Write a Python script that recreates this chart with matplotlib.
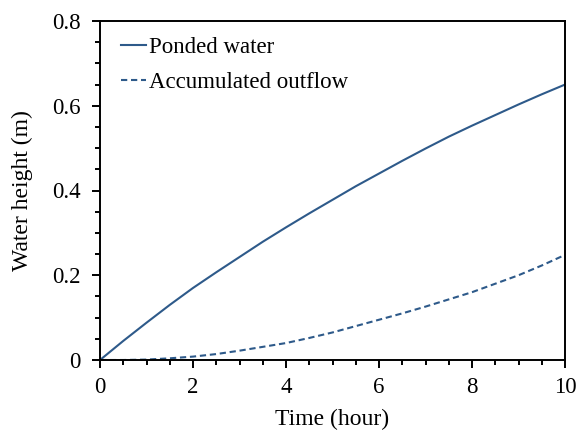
import matplotlib
matplotlib.use("Agg")
import matplotlib.pyplot as plt
from matplotlib.ticker import MultipleLocator, FuncFormatter

plt.rcParams['font.family'] = ['Liberation Serif', 'DejaVu Serif']

time_h = [0, 0.5, 1, 1.5, 2, 2.5, 3, 3.5, 4, 4.5, 5, 5.5, 6, 6.5, 7, 7.5, 8, 8.5, 9, 9.5, 10]
ponded = [0, 0.045, 0.088, 0.130, 0.170, 0.207, 0.243, 0.279, 0.313, 0.346, 0.378,
          0.410, 0.440, 0.470, 0.499, 0.527, 0.553, 0.578, 0.603, 0.627, 0.650]
outflow = [0, 0.0, 0.001, 0.004, 0.008, 0.014, 0.022, 0.031, 0.040, 0.052, 0.065,
           0.080, 0.095, 0.110, 0.126, 0.143, 0.160, 0.180, 0.200, 0.223, 0.248]

color = '#2e5a8a'

fig = plt.figure(figsize=(5.79, 4.33), dpi=100)
ax = fig.add_axes([100/579, 1-360/433, (565-100)/579, (360-21)/433])

ax.plot(time_h, ponded, color=color, lw=1.5, label='Ponded water')
ax.plot(time_h, outflow, color=color, lw=1.5, ls=(0, (3, 1.8)), label='Accumulated outflow')

ax.set_xlim(0, 10)
ax.set_ylim(0, 0.8)
ax.xaxis.set_major_locator(MultipleLocator(2))
ax.xaxis.set_minor_locator(MultipleLocator(0.5))
ax.yaxis.set_major_locator(MultipleLocator(0.2))
ax.yaxis.set_minor_locator(MultipleLocator(0.05))
ax.yaxis.set_major_formatter(FuncFormatter(lambda v, p: '0' if abs(v) < 1e-9 else f'{v:.1f}'))
ax.tick_params(which='both', direction='out', width=1.4, labelsize=16.5, top=False, right=False)
ax.tick_params(which='major', length=5.8)
ax.tick_params(axis='x', which='major', pad=6.5)
ax.tick_params(axis='y', which='major', pad=8)
ax.tick_params(which='minor', length=3.6)
for s in ax.spines.values():
    s.set_linewidth(1.4)

ax.set_xlabel('Time (hour)', fontsize=17, labelpad=8)
ax.set_ylabel('Water height (m)', fontsize=17, labelpad=14)

ax.legend(loc='upper left', bbox_to_anchor=(0.026, 0.98), frameon=False, fontsize=16.5,
          handlelength=1.1, handletextpad=0.13, borderaxespad=0, labelspacing=0.6)

fig.savefig('out.png', dpi=100)
